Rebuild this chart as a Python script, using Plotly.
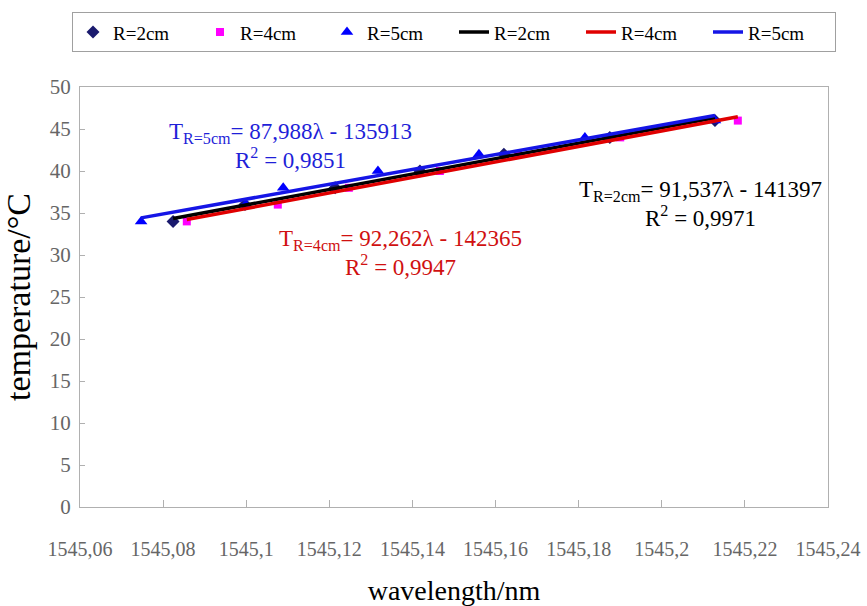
import numpy as np
import plotly.graph_objects as go

# ---- data ----
temps = [34, 36, 38, 40, 42, 44, 46]
wl_r2 = [1545.0824, 1545.0997, 1545.1214, 1545.1418, 1545.1620, 1545.1875, 1545.2128]
wl_r4 = [1545.0857, 1545.1076, 1545.1247, 1545.1466, 1545.1654, 1545.1900, 1545.2183]
wl_r5 = [1545.0747, 1545.0999, 1545.1089, 1545.1317, 1545.1560, 1545.1815, 1545.2128]
series_names = ["R=2cm", "R=4cm", "R=5cm"]
x_tick_vals = [1545.06, 1545.08, 1545.10, 1545.12, 1545.14, 1545.16, 1545.18, 1545.20, 1545.22, 1545.24]
x_tick_text = ["1545,06", "1545,08", "1545,1", "1545,12", "1545,14", "1545,16", "1545,18", "1545,2", "1545,22", "1545,24"]
eq_texts = {
    "R=5cm": ("T<sub>R=5cm</sub>= 87,988λ - 135913", "R<sup>2</sup> = 0,9851"),
    "R=4cm": ("T<sub>R=4cm</sub>= 92,262λ - 142365", "R<sup>2</sup> = 0,9947"),
    "R=2cm": ("T<sub>R=2cm</sub>= 91,537λ - 141397", "R<sup>2</sup> = 0,9971"),
}

FONT = "Liberation Serif, Times New Roman, serif"
marker_styles = [
    dict(symbol="diamond", color="#1a1a6e", size=10),
    dict(symbol="square", color="#ff00ff", size=8),
    dict(symbol="triangle-up", color="#0000ff", size=11),
]
line_colors = ["#000000", "#e00000", "#1515e6"]
data = [wl_r2, wl_r4, wl_r5]

fig = go.Figure()
for name, wl, ms in zip(series_names, data, marker_styles):
    fig.add_trace(go.Scatter(x=wl, y=temps, mode="markers", name=name,
                             marker=dict(symbol=ms["symbol"], color=ms["color"], size=ms["size"])))
for name, wl, lc in zip(series_names, data, line_colors):
    k, b = np.polyfit(wl, temps, 1)
    xs = [min(wl), max(wl)]
    ys = [k * v + b for v in xs]
    fig.add_trace(go.Scatter(x=xs, y=ys, mode="lines", name=name,
                             line=dict(color=lc, width=3.5)))

ann = []
def add_eq(key, xc, y1, y2, color):
    l1, l2 = eq_texts[key]
    ann.append(dict(x=xc, y=y1, xref="x", yref="y", text=l1, showarrow=False,
                    font=dict(family=FONT, size=23, color=color), xanchor="center", yanchor="middle"))
    ann.append(dict(x=xc, y=y2, xref="x", yref="y", text=l2, showarrow=False,
                    font=dict(family=FONT, size=23, color=color), xanchor="center", yanchor="middle"))

def px2x(px):
    return 1545.06 + (px - 80) / 748 * 0.18
def py2y(py):
    return (507 - py) / 422 * 50

add_eq("R=5cm", px2x(290), py2y(131), py2y(157), "#1f1fd8")
add_eq("R=4cm", px2x(400), py2y(239), py2y(264), "#d01010")
add_eq("R=2cm", px2x(700), py2y(189), py2y(215), "#000000")

fig.update_layout(
    width=867, height=606,
    margin=dict(l=80, r=39, t=85, b=99),
    paper_bgcolor="white", plot_bgcolor="white",
    font=dict(family=FONT, color="#000"),
    showlegend=True,
    legend=dict(orientation="h", x=-0.0107, y=1.178, xanchor="left", yanchor="top",
                bordercolor="#a0a0a0", borderwidth=1, bgcolor="white",
                font=dict(family=FONT, size=19, color="#000"),
                itemwidth=30, entrywidth=82, entrywidthmode="pixels",
                tracegroupgap=0),
    annotations=ann,
)
fig.update_xaxes(range=[1545.06, 1545.24], tickvals=x_tick_vals, ticktext=x_tick_text,
                 showgrid=False, zeroline=False, showline=True, linecolor="#b0b0b0", linewidth=1,
                 mirror=True, ticks="inside", ticklen=7, tickcolor="#b0b0b0",
                 ticklabelstandoff=24, automargin=False,
                 tickfont=dict(family=FONT, size=20, color="#666666"),
                 title=dict(text="wavelength/nm", font=dict(family=FONT, size=28, color="#000"), standoff=22))
fig.update_yaxes(range=[0, 50], dtick=5, showgrid=False, zeroline=False, showline=True,
                 linecolor="#b0b0b0", linewidth=1, mirror=True, ticks="inside", ticklen=5,
                 tickcolor="#b0b0b0", tickfont=dict(family=FONT, size=21, color="#666666"),
                 ticklabelstandoff=4, automargin=False,
                 title=dict(text="temperature/°C", font=dict(family=FONT, size=34, color="#000"), standoff=8))

fig.write_html("out.html")
